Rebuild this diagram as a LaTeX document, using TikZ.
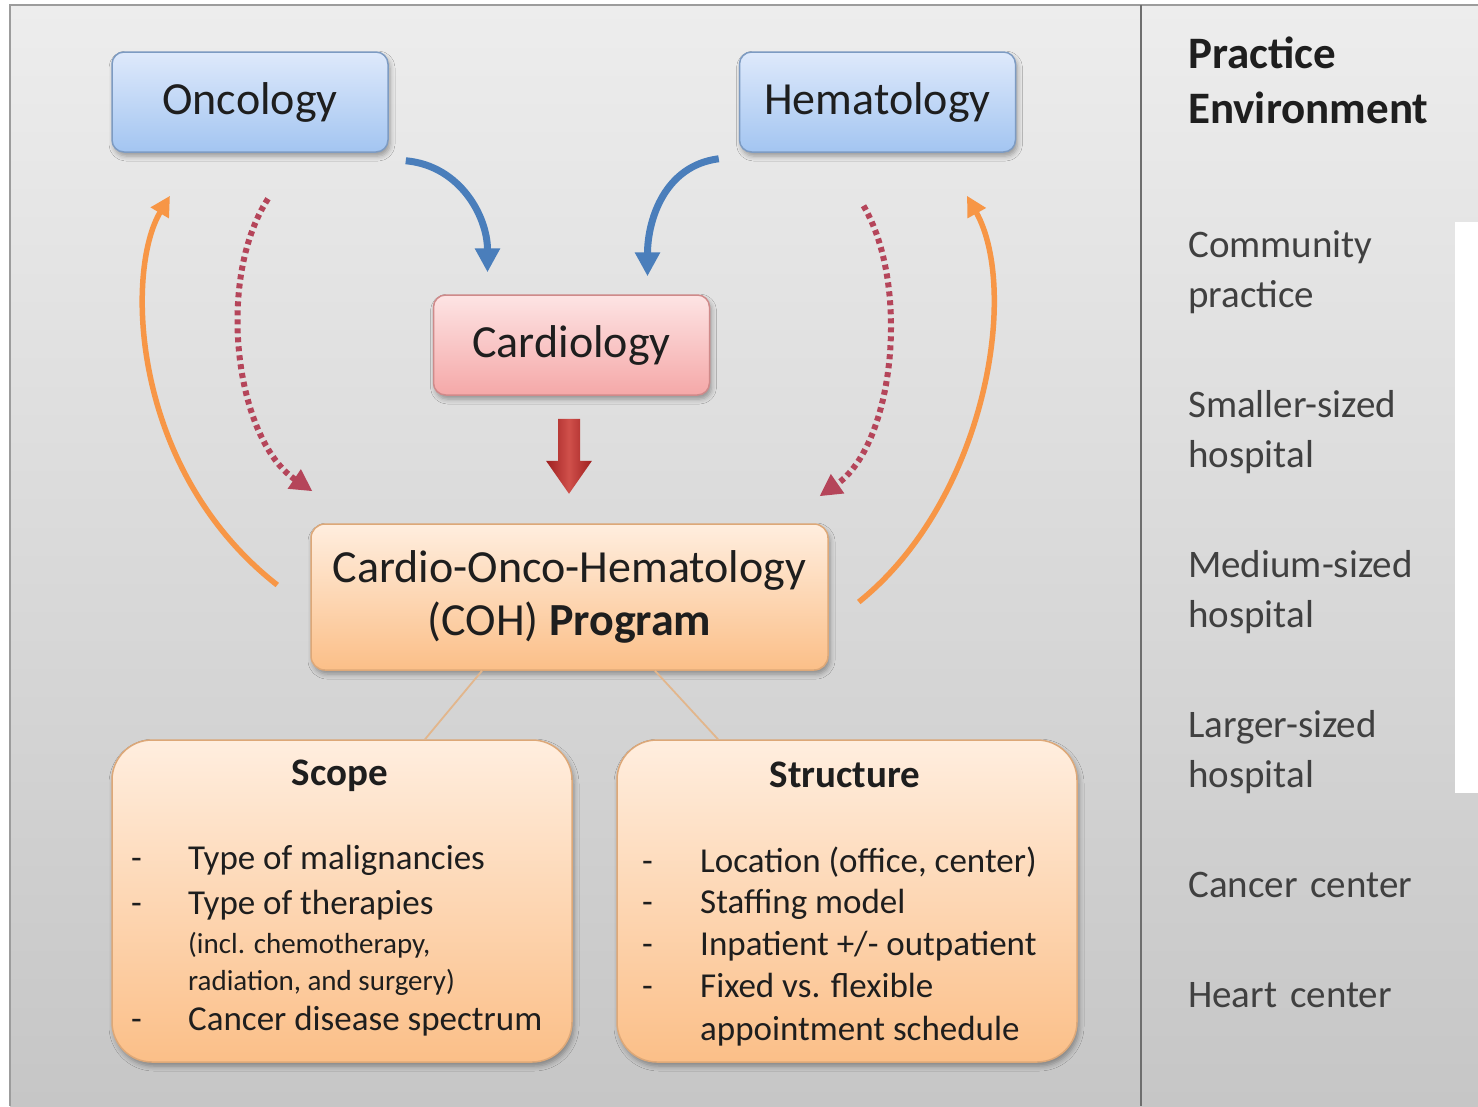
\documentclass[tikz,border=0pt]{standalone}
\usepackage{fontspec}
\setmainfont{Carlito}
\usetikzlibrary{arrows.meta,shadows.blur,calc}

\definecolor{bgtop}{HTML}{EDEDED}
\definecolor{bgbot}{HTML}{C6C6C6}
\definecolor{framegray}{HTML}{9C9C9C}
\definecolor{divgray}{HTML}{6E6E6E}
\definecolor{bluetop}{HTML}{DEE9FB}
\definecolor{bluebot}{HTML}{A3C5F1}
\definecolor{blueedge}{HTML}{7D9BC2}
\definecolor{pinktop}{HTML}{FDE4E4}
\definecolor{pinkbot}{HTML}{F5A8A8}
\definecolor{pinkedge}{HTML}{CF8A8A}
\definecolor{orgtop}{HTML}{FFEEDF}
\definecolor{orgbot}{HTML}{FBBF88}
\definecolor{orgedge}{HTML}{DDA878}
\definecolor{flowblue}{HTML}{4A7EBB}
\definecolor{floworange}{HTML}{F79646}
\definecolor{dotred}{HTML}{B5455A}
\definecolor{darkred}{HTML}{9E1F1F}
\definecolor{midred}{HTML}{D0504B}
\definecolor{linktan}{HTML}{E2B68C}
\definecolor{ink}{HTML}{1E1E1E}

\tikzset{
  boxshadow/.style={blur shadow={shadow xshift=2pt, shadow yshift=-4pt,
      shadow blur radius=5pt, shadow opacity=35}},
  deptbox/.style={draw=blueedge, line width=1.5pt, rounded corners=12pt,
      top color=bluetop, bottom color=bluebot, minimum width=276pt,
      minimum height=100pt, text=ink, font=\fontsize{46}{55}\selectfont, boxshadow},
  cardbox/.style={deptbox, draw=pinkedge, top color=pinktop, bottom color=pinkbot},
  progbox/.style={draw=orgedge, line width=1.5pt, rounded corners=14pt,
      top color=orgtop, bottom color=orgbot, minimum width=517pt,
      minimum height=146pt, text=ink, align=center,
      font=\fontsize{46}{53}\selectfont, boxshadow},
  facetbox/.style={draw=orgedge, line width=1.5pt, rounded corners=40pt,
      top color=orgtop, bottom color=orgbot, minimum width=460pt,
      minimum height=322pt, boxshadow},
  facettitle/.style={anchor=base, text=ink, font=\fontsize{39}{47}\selectfont\bfseries},
  item/.style={anchor=base west, text=ink, font=\fontsize{35}{42}\selectfont, inner sep=0pt},
  smallitem/.style={item, font=\fontsize{29}{36}\selectfont},
  envhead/.style={anchor=base west, align=left, text=ink, inner sep=0pt,
      font=\fontsize{45}{55}\selectfont\bfseries},
  envitem/.style={anchor=base west, align=left, text=ink!85, inner sep=0pt,
      font=\fontsize{39}{50}\selectfont},
  feedarrow/.style={draw=flowblue, line width=7pt,
      -{Triangle[length=24pt,width=24pt]}},
  dotarrow/.style={draw=dotred, line width=6pt, dash pattern=on 5pt off 4pt,
      -{Triangle[length=22pt,width=22pt]}},
  backarrow/.style={draw=floworange, line width=5.5pt,
      -{Triangle[length=20pt,width=20pt]}},
  link/.style={draw=linktan, line width=1.8pt}
}

\begin{document}
\begin{tikzpicture}[x=1pt,y=-1pt]
  \useasboundingbox (0,0) rectangle (1478,1106);
  \fill[white] (0,0) rectangle (1478,1106);

  % panel background, frame and column divider
  \shade[top color=bgtop, bottom color=bgbot] (10,5) rectangle (1478,1106);
  \draw[framegray, line width=2pt] (10,1106) -- (10,5) -- (1478,5);
  \draw[divgray, line width=2pt] (1141,5) -- (1141,1106);
  \fill[white] (1455,222) rectangle (1478,793);

  % departments
  \node[deptbox] (onc) at (250,102) {Oncology};
  \node[deptbox] (hem) at (877.5,102) {Hematology};
  \node[cardbox] (card) at (571.5,345) {Cardiology};

  % program
  \node[progbox] (coh) at (569.5,597) {Cardio-Onco-Hematology\\(COH) \textbf{Program}};

  % scope and structure panels
  \node[facetbox] (scope) at (342,901) {};
  \node[facetbox] (struct) at (847,901) {};

  \node[facettitle] (scopeT) at (340,785) {Scope};
  \node[item] (sd1) at (131,869) {-};
  \node[item] (s1) at (188,869) {Type of malignancies};
  \node[item] (sd2) at (131,914) {-};
  \node[item] (s2) at (188,914) {Type of therapies};
  \node[smallitem] (s3) at (188,953) {(incl. chemotherapy,};
  \node[smallitem] (s4) at (188,990) {radiation, and surgery)};
  \node[item] (sd5) at (131,1030) {-};
  \node[item] (s5) at (188,1030) {Cancer disease spectrum};

  \node[facettitle] (structT) at (845,787) {Structure};
  \node[item] (td1) at (642,872) {-};
  \node[item] (t1) at (700,872) {Location (office, center)};
  \node[item] (td2) at (642,913) {-};
  \node[item] (t2) at (700,913) {Staffing model};
  \node[item] (td3) at (642,955) {-};
  \node[item] (t3) at (700,955) {Inpatient +/- outpatient};
  \node[item] (td4) at (642,997) {-};
  \node[item] (t4) at (700,997) {Fixed vs. flexible};
  \node[item] (t5) at (700,1040) {appointment schedule};

  % practice environment column (base = baseline of the last line)
  \node[envhead] (envT) at (1188,123) {Practice\\Environment};
  \node[envitem] (e1) at (1188,307) {Community\\practice};
  \node[envitem] (e2) at (1188,467) {Smaller-sized\\hospital};
  \node[envitem] (e3) at (1188,627) {Medium-sized\\hospital};
  \node[envitem] (e4) at (1188,787) {Larger-sized\\hospital};
  \node[envitem] (e5) at (1188,897) {Cancer~\hspace{4pt}center};
  \node[envitem] (e6) at (1188,1007) {Heart~\hspace{4pt}center};

  % departments feed cardiology
  \draw[feedarrow] ([xshift=17pt,yshift=-8pt]onc.south east)
    .. controls +(55,5) and +(0,-55) .. ([xshift=-84pt,yshift=22pt]card.north);
  \draw[feedarrow] ([xshift=-20pt,yshift=-6pt]hem.south west)
    .. controls +(-55,7) and +(0,-55) .. ([xshift=76pt,yshift=18pt]card.north);

  % cardiology into the program
  \shade[left color=darkred, right color=darkred, middle color=midred]
    ([xshift=-2.5pt,yshift=-23pt]card.south)
    -- ++(-11,0) -- ++(0,42) -- ++(-12,0) -- ++(23,33) -- ++(23,-33)
    -- ++(-12,0) -- ++(0,-42) -- cycle;

  % dotted referrals into the program
  \draw[dotarrow] ([xshift=18pt,yshift=-46pt]onc.south)
    .. controls +(-53,82) and +(-77,-52) .. ([xshift=-257pt,yshift=32pt]coh.north);
  \draw[dotarrow] ([xshift=-14pt,yshift=-53pt]hem.south)
    .. controls +(47,80) and +(75,-52) .. ([xshift=250pt,yshift=27pt]coh.north);

  % program feeds back to the departments
  \draw[backarrow] ([xshift=-33pt,yshift=12pt]coh.west)
    .. controls +(-147,-115) and +(-45,75) .. ([xshift=-80pt,yshift=-43pt]onc.south);
  \draw[backarrow] ([xshift=30pt,yshift=-5pt]coh.east)
    .. controls +(127,-102) and +(53,95) .. ([xshift=89.5pt,yshift=-43pt]hem.south);

  % program splits into scope and structure
  \draw[link] ([xshift=-87.5pt]coh.south) -- ([xshift=83pt]scope.north);
  \draw[link] ([xshift=85.5pt]coh.south) -- ([xshift=-129pt]struct.north);
\end{tikzpicture}
\end{document}
